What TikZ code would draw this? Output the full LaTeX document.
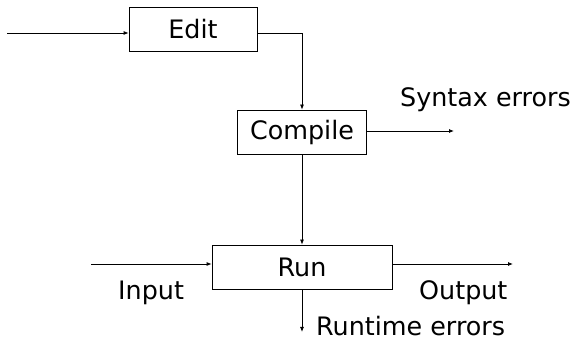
\documentclass[tikz,border=0pt]{standalone}
\usepackage{fontspec}
\setmainfont{DejaVu Sans}
\usetikzlibrary{arrows.meta}
\tikzset{
  stage/.style={draw, line width=0.8pt, inner sep=0pt, minimum height=44pt},
  flow/.style={line width=0.8pt, -{Latex[length=5pt,width=4pt]}},
  lbl/.style={anchor=base west, inner sep=0pt}
}
\begin{document}
\begin{tikzpicture}[x=1pt,y=-1pt,font=\fontsize{25.4}{30}\selectfont]
                        \useasboundingbox (0,0) rectangle (574,342);
                        \node[stage,minimum width=128pt] (edit) at (193,29){Edit};
                        \node[stage,minimum width=129pt] (compile) at (302,132){Compile};
                        \node[stage,minimum width=180pt] (run) at (302,267){Run};

                        \node[lbl] (syntax) at (400,107){Syntax errors};
                        \node[lbl] (input) at (118,300){Input};
                        \node[lbl] (output) at (419,300){Output};
                        \node[lbl] (runtime) at (316,336){Runtime errors};

                        \coordinate (src) at (7,33);
                        \coordinate (synend) at (454,131);
                        \coordinate (insrc) at (91,264);
                        \coordinate (outend) at (513,264);
                        \coordinate (rtend) at (302,332);

                        \draw[flow] (src) -- (src -| edit.west);
                        \draw[flow] (src -| edit.east) -| (compile.north);
                        \draw[flow] (compile.east |- synend) -- (synend);
                        \draw[flow] (compile.south) -- (run.north);
                        \draw[flow] (insrc) -- (insrc -| run.west);
                        \draw[flow] (outend -| run.east) -- (outend);
                        \draw[flow] (run.south) -- (rtend);
                    \end{tikzpicture}
\end{document}
